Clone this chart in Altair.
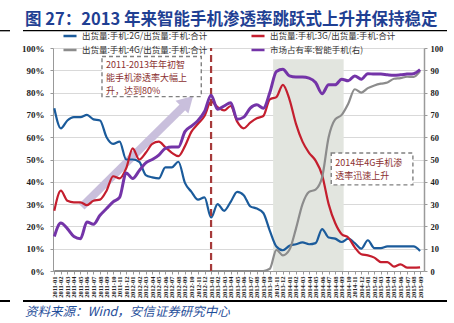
import json
import altair as alt
import pandas as pd

# ---------------- data ----------------
months = [f"{y}-{m:02d}" for y in range(2011, 2016) for m in range(1, 13)][:57]
idx = list(range(len(months)))

share_2g = [73, 64, 67.5, 69, 69, 70, 68, 67.5, 60, 57, 58, 50, 50, 49, 43, 42, 41.5, 46.5, 46.5, 49,
            39.5, 35.5, 32, 33, 24, 30, 27, 31, 35.5, 34, 29, 28, 26, 18, 11, 9.3, 11.3, 12, 12.8, 12,
            12.5, 18.8, 15, 14.5, 13, 14.5, 12.5, 10, 13.8, 10.3, 10.3, 11, 11, 11, 11, 11, 9]
share_3g = [27, 36, 31.5, 30.8, 30.8, 29.5, 31.5, 32, 36, 42.5, 41.5, 46, 55, 50, 53, 57, 58, 55.5, 53, 51.5,
            56, 62.5, 66, 69.5, 76, 73.5, 72, 74, 67, 64, 66.5, 68.5, 69.5, 77, 78, 83.5, 77, 66, 58, 53,
            49.5, 43, 30, 21.5, 16.5, 15, 10.6, 7.5, 7, 6, 4, 4, 2, 3, 1.5, 1.5, 1.6]
share_4g = [0] * 33 + [1, 9.5, 7, 9.5, 19, 30, 35.5, 36.5, 42, 60, 68, 70, 75, 81.5, 80, 82, 83.2, 84,
                       84.5, 86.2, 86.5, 87.1, 87, 89.6]
smart_share = [15.5, 21.5, 19, 15.5, 14.5, 22, 21, 25, 28, 31, 33, 44, 41.5, 45, 48.5, 50, 52, 55, 55.6, 55.6,
               62.5, 65, 67.5, 71.5, 78.8, 72.5, 74, 75.5, 68, 69, 73, 74.5, 73, 80, 89.5, 90.5, 87.5, 87, 87, 86.5,
               84.5, 79.5, 83.5, 83.5, 86, 85.3, 87.5, 86, 88.5, 88.3, 88.3, 88, 87.8, 88, 88.3, 88.5, 90.3]

name_2g = "出货量:手机:2G/出货量:手机:合计"
name_3g = "出货量:手机:3G/出货量:手机:合计"
name_4g = "出货量:手机:4G/出货量:手机:合计"
name_sp = "市场占有率:智能手机(右)"
# legend fills column by column: (2G, 4G) | (3G, share)
legend_names = [name_2g, name_4g, name_3g, name_sp]
legend_colors = ["#1B5B9B", "#8C8C8C", "#C41E2E", "#7434A8"]

title_text = "图 27：2013 年来智能手机渗透率跳跃式上升并保持稳定"
source_text = "资料来源：Wind，安信证券研究中心"
note1 = ["2011-2013年年初智", "能手机渗透率大幅上", "升，达到80%"]
note2 = ["2014年4G手机渗", "透率迅速上升"]

# annotation geometry (data coordinates)
shade_x = [33.5, 44.3]
mark_2013 = 24
arrow_pts = [4.2, 28.8, 20.0, 74.5]
arrow_head = [20.4, 76.0]
box1 = [7.3, 22.5, 78.2, 96.2]
box2 = [42.4, 54.9, 38.6, 52.9]
note1_pos = [7.9, [92.3, 86.6, 80.9]]
note2_pos = [43.0, [48.6, 42.6]]

# ---------------- frames ----------------
left_df = pd.DataFrame({
    "i": idx * 3,
    "v": share_2g + share_3g + share_4g,
    "s": [name_2g] * 57 + [name_3g] * 57 + [name_4g] * 57,
})
right_df = pd.DataFrame({"i": idx, "v": smart_share, "s": [name_sp] * 57})

label_expr = json.dumps(months) + "[datum.value]"
SERIF = "Liberation Serif"
CJK = "Noto Sans CJK SC"


def X(field):
    return alt.X(field, type="quantitative",
                 scale=alt.Scale(domain=[-0.2, 56.6], nice=False, zero=False),
                 axis=alt.Axis(values=idx, labelExpr=label_expr, labelAngle=270,
                               labelFont=SERIF, labelFontSize=6.5, labelFontWeight="bold",
                               labelColor="#222", labelOverlap=False, labelPadding=2,
                               tickSize=3, tickColor="#999", domainColor="#999",
                               grid=False, title=None, labelFlush=False, labelBound=False))


def Y(field):
    return alt.Y(field, type="quantitative",
                 scale=alt.Scale(domain=[0, 100], nice=False, zero=True),
                 axis=alt.Axis(values=list(range(0, 101, 10)), labelExpr="datum.value + '%'",
                               labelFont=SERIF, labelFontSize=9, labelFontWeight="bold",
                               labelColor="#222", labelPadding=6, tickSize=3,
                               tickColor="#999", domainColor="#999", grid=True,
                               gridColor="#D9D9D9", title=None))


color_enc = alt.Color("s:N", scale=alt.Scale(domain=legend_names, range=legend_colors),
                      legend=alt.Legend(orient="none", legendX=9, legendY=-20, columns=2,
                                        symbolType="stroke", symbolSize=170,
                                        symbolStrokeWidth=2.5, labelFont=CJK,
                                        labelFontSize=8.5, labelColor="#333",
                                        columnPadding=38, rowPadding=1, padding=0,
                                        title=None, labelLimit=300))

shade = alt.Chart(pd.DataFrame({"x0": [shade_x[0]], "x1": [shade_x[1]], "y0": [0], "y1": [95]})).mark_rect(
    color="#E2E5DF").encode(x=X("x0"), x2="x1", y=Y("y0"), y2="y1")

arrow_df = pd.DataFrame({"x0": [arrow_pts[0]], "y0": [arrow_pts[1]], "x1": [arrow_pts[2]], "y1": [arrow_pts[3]]})
arrow = alt.Chart(arrow_df).mark_rule(strokeWidth=8, color="#C9BFDC", strokeCap="butt").encode(
    x=X("x0"), x2="x1", y=Y("y0"), y2="y1")
head = alt.Chart(pd.DataFrame({"x": [arrow_head[0]], "y": [arrow_head[1]]})).mark_point(
    shape="triangle-up", filled=True, size=330, angle=45, color="#C9BFDC", opacity=1).encode(
    x=X("x"), y=Y("y"))

lines_left = alt.Chart(left_df).mark_line(strokeWidth=2.2, interpolate="monotone").encode(
    x=X("i"), y=Y("v"), color=color_enc, detail="s:N")

vline = alt.Chart(pd.DataFrame({"x": [mark_2013], "y0": [0], "y1": [100]})).mark_rule(
    strokeDash=[7, 4], strokeWidth=2.2, color="#A63A3A").encode(x=X("x"), y=Y("y0"), y2="y1")

boxes = alt.Chart(pd.DataFrame({"x0": [box1[0], box2[0]], "x1": [box1[1], box2[1]],
                                "y0": [box1[2], box2[2]], "y1": [box1[3], box2[3]]})).mark_rect(
    fill="white", stroke="#808080", strokeDash=[4, 3], strokeWidth=1.4).encode(
    x=X("x0"), x2="x1", y=Y("y0"), y2="y1")

notes_df = pd.DataFrame({
    "x": [note1_pos[0]] * 3 + [note2_pos[0]] * 2,
    "y": note1_pos[1] + note2_pos[1],
    "t": note1 + note2,
})
notes = alt.Chart(notes_df).mark_text(align="left", baseline="middle", font=CJK, fontSize=9,
                                      color="#8B3030").encode(x=X("x"), y=Y("y"), text="t:N")

dummy = pd.DataFrame({"a": [0]})
title = alt.Chart(dummy).mark_text(align="left", baseline="middle", font=CJK, fontSize=16.5,
                                   fontWeight="bold", color="#1F3F93").encode(
    x=alt.value(-28), y=alt.value(-28), text=alt.value(title_text))
source = alt.Chart(dummy).mark_text(align="left", baseline="middle", font=CJK, fontSize=12.5,
                                    fontStyle="italic", color="#1F4E9A").encode(
    x=alt.value(-28), y=alt.value(264), text=alt.value(source_text))
rule_top = alt.Chart(dummy).mark_rule(color="black", strokeWidth=1.3).encode(
    x=alt.value(-30), x2=alt.value(394), y=alt.value(-17.3))
rule_top2 = alt.Chart(dummy).mark_rule(color="black", strokeWidth=1.3).encode(
    x=alt.value(-53), x2=alt.value(-43), y=alt.value(-17.3))
rule_bot = alt.Chart(dummy).mark_rule(color="black", strokeWidth=2).encode(
    x=alt.value(-30), x2=alt.value(394), y=alt.value(253))
rule_bot2 = alt.Chart(dummy).mark_rule(color="black", strokeWidth=2).encode(
    x=alt.value(-53), x2=alt.value(-43), y=alt.value(253))

left = alt.layer(shade, arrow, head, lines_left, vline, boxes, notes,
                 title, source, rule_top, rule_top2, rule_bot, rule_bot2)

right = alt.Chart(right_df).mark_line(strokeWidth=3, interpolate="monotone").encode(
    x=X("i"),
    y=alt.Y("v", type="quantitative", scale=alt.Scale(domain=[0, 100], nice=False),
            axis=alt.Axis(orient="right", values=list(range(0, 101, 10)), labelFont=SERIF,
                          labelFontSize=8.5, labelFontWeight="bold", labelColor="#222",
                          domainColor="#9A9A9A", domainWidth=1.5, tickColor="#9A9A9A",
                          tickSize=3, labelPadding=3, grid=False, title=None)),
    color=color_enc)

chart = alt.layer(left, right).resolve_scale(y="independent").properties(
    width=371, height=223,
    autosize=alt.AutoSizeParams(type="none"),
    padding={"left": 53, "top": 48, "right": 30, "bottom": 52},
    background="white",
).configure_view(stroke=None)

chart.save("out.html", embed_options={"renderer": "svg", "actions": False})
